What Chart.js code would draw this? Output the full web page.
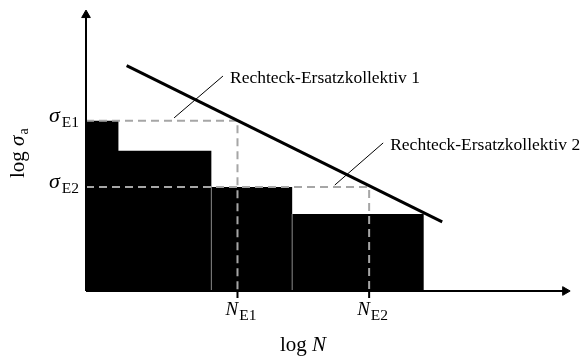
<!DOCTYPE html>
<html>
<head>
<meta charset="utf-8">
<script src="https://cdn.jsdelivr.net/npm/chart.js@4"></script>
<style>
  html, body { margin: 0; padding: 0; background: #fff; }
  #wrap { width: 583px; height: 358px; }
</style>
</head>
<body>
<div id="wrap"><canvas id="c" width="583" height="358"></canvas></div>
<script>
/* data (x = log N, y = log sigma_a, arbitrary units 0..10) --------------- */
const stepX      = [0, 0.67, 2.59, 4.26, 6.98];     // left edge of each block (last = right end)
const stepY      = [6.06, 4.99, 3.70, 2.74, 2.74];  // block heights
const stepLabels = ['σE1', 'σE2'];
const sigmaE     = [6.06, 3.70];                   // sigma_E1, sigma_E2
const nE         = [3.13, 5.85];                   // N_E1, N_E2
const nLabels    = ['E1', 'E2'];
const woehlerX   = [0.84, 7.36];
const woehlerY   = [8.02, 2.46];
const leader1    = [[1.82, 6.16], [2.83, 7.65]];
const leader2    = [[5.14, 3.77], [6.14, 5.27]];
const noteText   = ['Rechteck-Ersatzkollektiv 1', 'Rechteck-Ersatzkollektiv 2'];

const SERIF = '"Liberation Serif", "Times New Roman", serif';
const GREY  = '#a6a6a6';

/* helpers ------------------------------------------------------------------ */
const pts = (xs, ys) => xs.map((x, i) => ({ x, y: ys[i] }));
const seg = (data, color, width, order, extra = {}) => ({
  type: 'line', data, borderColor: color, borderWidth: width,
  pointRadius: 0, fill: false, tension: 0, clip: false, order, ...extra
});

/* datasets ----------------------------------------------------------------- */
const datasets = [
  // load spectrum blocks
  seg(pts(stepX, stepY), '#000', 0, 10, {
    stepped: 'before', fill: 'origin', backgroundColor: '#000'
  }),
  // thin separators between blocks
  seg([{ x: stepX[2], y: 0 }, { x: stepX[2], y: stepY[2] }], '#8a8a8a', 1, 9),
  seg([{ x: stepX[3], y: 0 }, { x: stepX[3], y: stepY[3] }], '#8a8a8a', 1, 9),
  // dashed equivalent rectangles
  ...sigmaE.map((s, i) => seg(
    [{ x: 0, y: s }, { x: nE[i], y: s }, { x: nE[i], y: 0 }],
    GREY, 2, 8, { borderDash: [8, 5] })),
  // S-N line
  seg(pts(woehlerX, woehlerY), '#000', 3, 5),
  // axes with arrow heads
  seg([{ x: 0, y: 0 }, { x: 9.9, y: 0 }], '#000', 2, 3, {
    pointRadius: [0, 5], pointStyle: 'triangle', pointRotation: [0, 90],
    pointBackgroundColor: '#000', pointBorderColor: '#000', pointBorderWidth: 1
  }),
  seg([{ x: 0, y: 0 }, { x: 0, y: 9.82 }], '#000', 2, 3, {
    pointRadius: [0, 5], pointStyle: 'triangle', pointRotation: [0, 0],
    pointBackgroundColor: '#000', pointBorderColor: '#000', pointBorderWidth: 1
  }),
  // ticks below x axis
  ...nE.map(n => seg([{ x: n, y: 0 }, { x: n, y: -0.25 }], '#000', 2, 2)),
  // leader lines
  seg(leader1.map(([x, y]) => ({ x, y })), '#000', 1, 1),
  seg(leader2.map(([x, y]) => ({ x, y })), '#000', 1, 1)
];

/* text labels -------------------------------------------------------------- */
const labelPlugin = {
  id: 'labels',
  afterDatasetsDraw(chart) {
    const { ctx, scales: { x, y } } = chart;
    const px = v => x.getPixelForValue(v);
    const py = v => y.getPixelForValue(v);
    ctx.save();
    ctx.fillStyle = '#000';
    ctx.textBaseline = 'alphabetic';
    ctx.textAlign = 'left';

    // sigma_E labels on the y side
    sigmaE.forEach((s, i) => {
      ctx.font = 'italic 22px ' + SERIF;
      const wS = ctx.measureText('σ').width;
      ctx.font = '15.5px ' + SERIF;
      const sub = stepLabels[i].slice(1);
      const wSub = ctx.measureText(sub).width;
      const x0 = px(0) - 8 - wS - wSub;
      ctx.font = 'italic 22px ' + SERIF;
      ctx.fillText('σ', x0 - 1, py(s) + 1);
      ctx.font = '15.5px ' + SERIF;
      ctx.fillText(sub, x0 + wS + 1, py(s) + 6);
    });

    // N_E labels under the x axis
    nE.forEach((n, i) => {
      ctx.font = 'italic 19px ' + SERIF;
      const x0 = px(n) - 12;
      ctx.fillText('N', x0, py(0) + 24);
      const wN = ctx.measureText('N').width;
      ctx.font = '15.5px ' + SERIF;
      ctx.fillText(nLabels[i], x0 + wN + 1, py(0) + 29);
    });

    // axis titles
    ctx.font = '21px ' + SERIF;
    ctx.fillText('log ', 280, py(0) + 60);
    const wLog = ctx.measureText('log ').width;
    ctx.font = 'italic 21px ' + SERIF;
    ctx.fillText('N', 280 + wLog, py(0) + 60);

    ctx.translate(24, 178);
    ctx.rotate(-Math.PI / 2);
    ctx.font = '21px ' + SERIF;
    ctx.fillText('log ', 0, 0);
    let w = ctx.measureText('log ').width;
    ctx.font = 'italic 21px ' + SERIF;
    ctx.fillText('σ', w, 0);
    w += ctx.measureText('σ').width;
    ctx.font = '14px ' + SERIF;
    ctx.fillText('a', w + 1, 4);
    ctx.setTransform(1, 0, 0, 1, 0, 0);

    // annotations
    ctx.font = '17.5px ' + SERIF;
    [leader1, leader2].forEach((l, i) => {
      const [tx, ty] = l[1];
      ctx.fillText(noteText[i], px(tx) + 7, py(ty) + 7);
    });
    ctx.restore();
  }
};

new Chart(document.getElementById('c'), {
  type: 'line',
  data: { datasets },
  options: {
    responsive: false,
    animation: false,
    layout: { padding: { left: 86, right: 13, top: 10, bottom: 67 } },
    plugins: { legend: { display: false }, tooltip: { enabled: false } },
    scales: {
      x: { type: 'linear', min: 0, max: 10, display: false },
      y: { type: 'linear', min: 0, max: 10, display: false }
    }
  },
  plugins: [labelPlugin]
});
</script>
</body>
</html>
